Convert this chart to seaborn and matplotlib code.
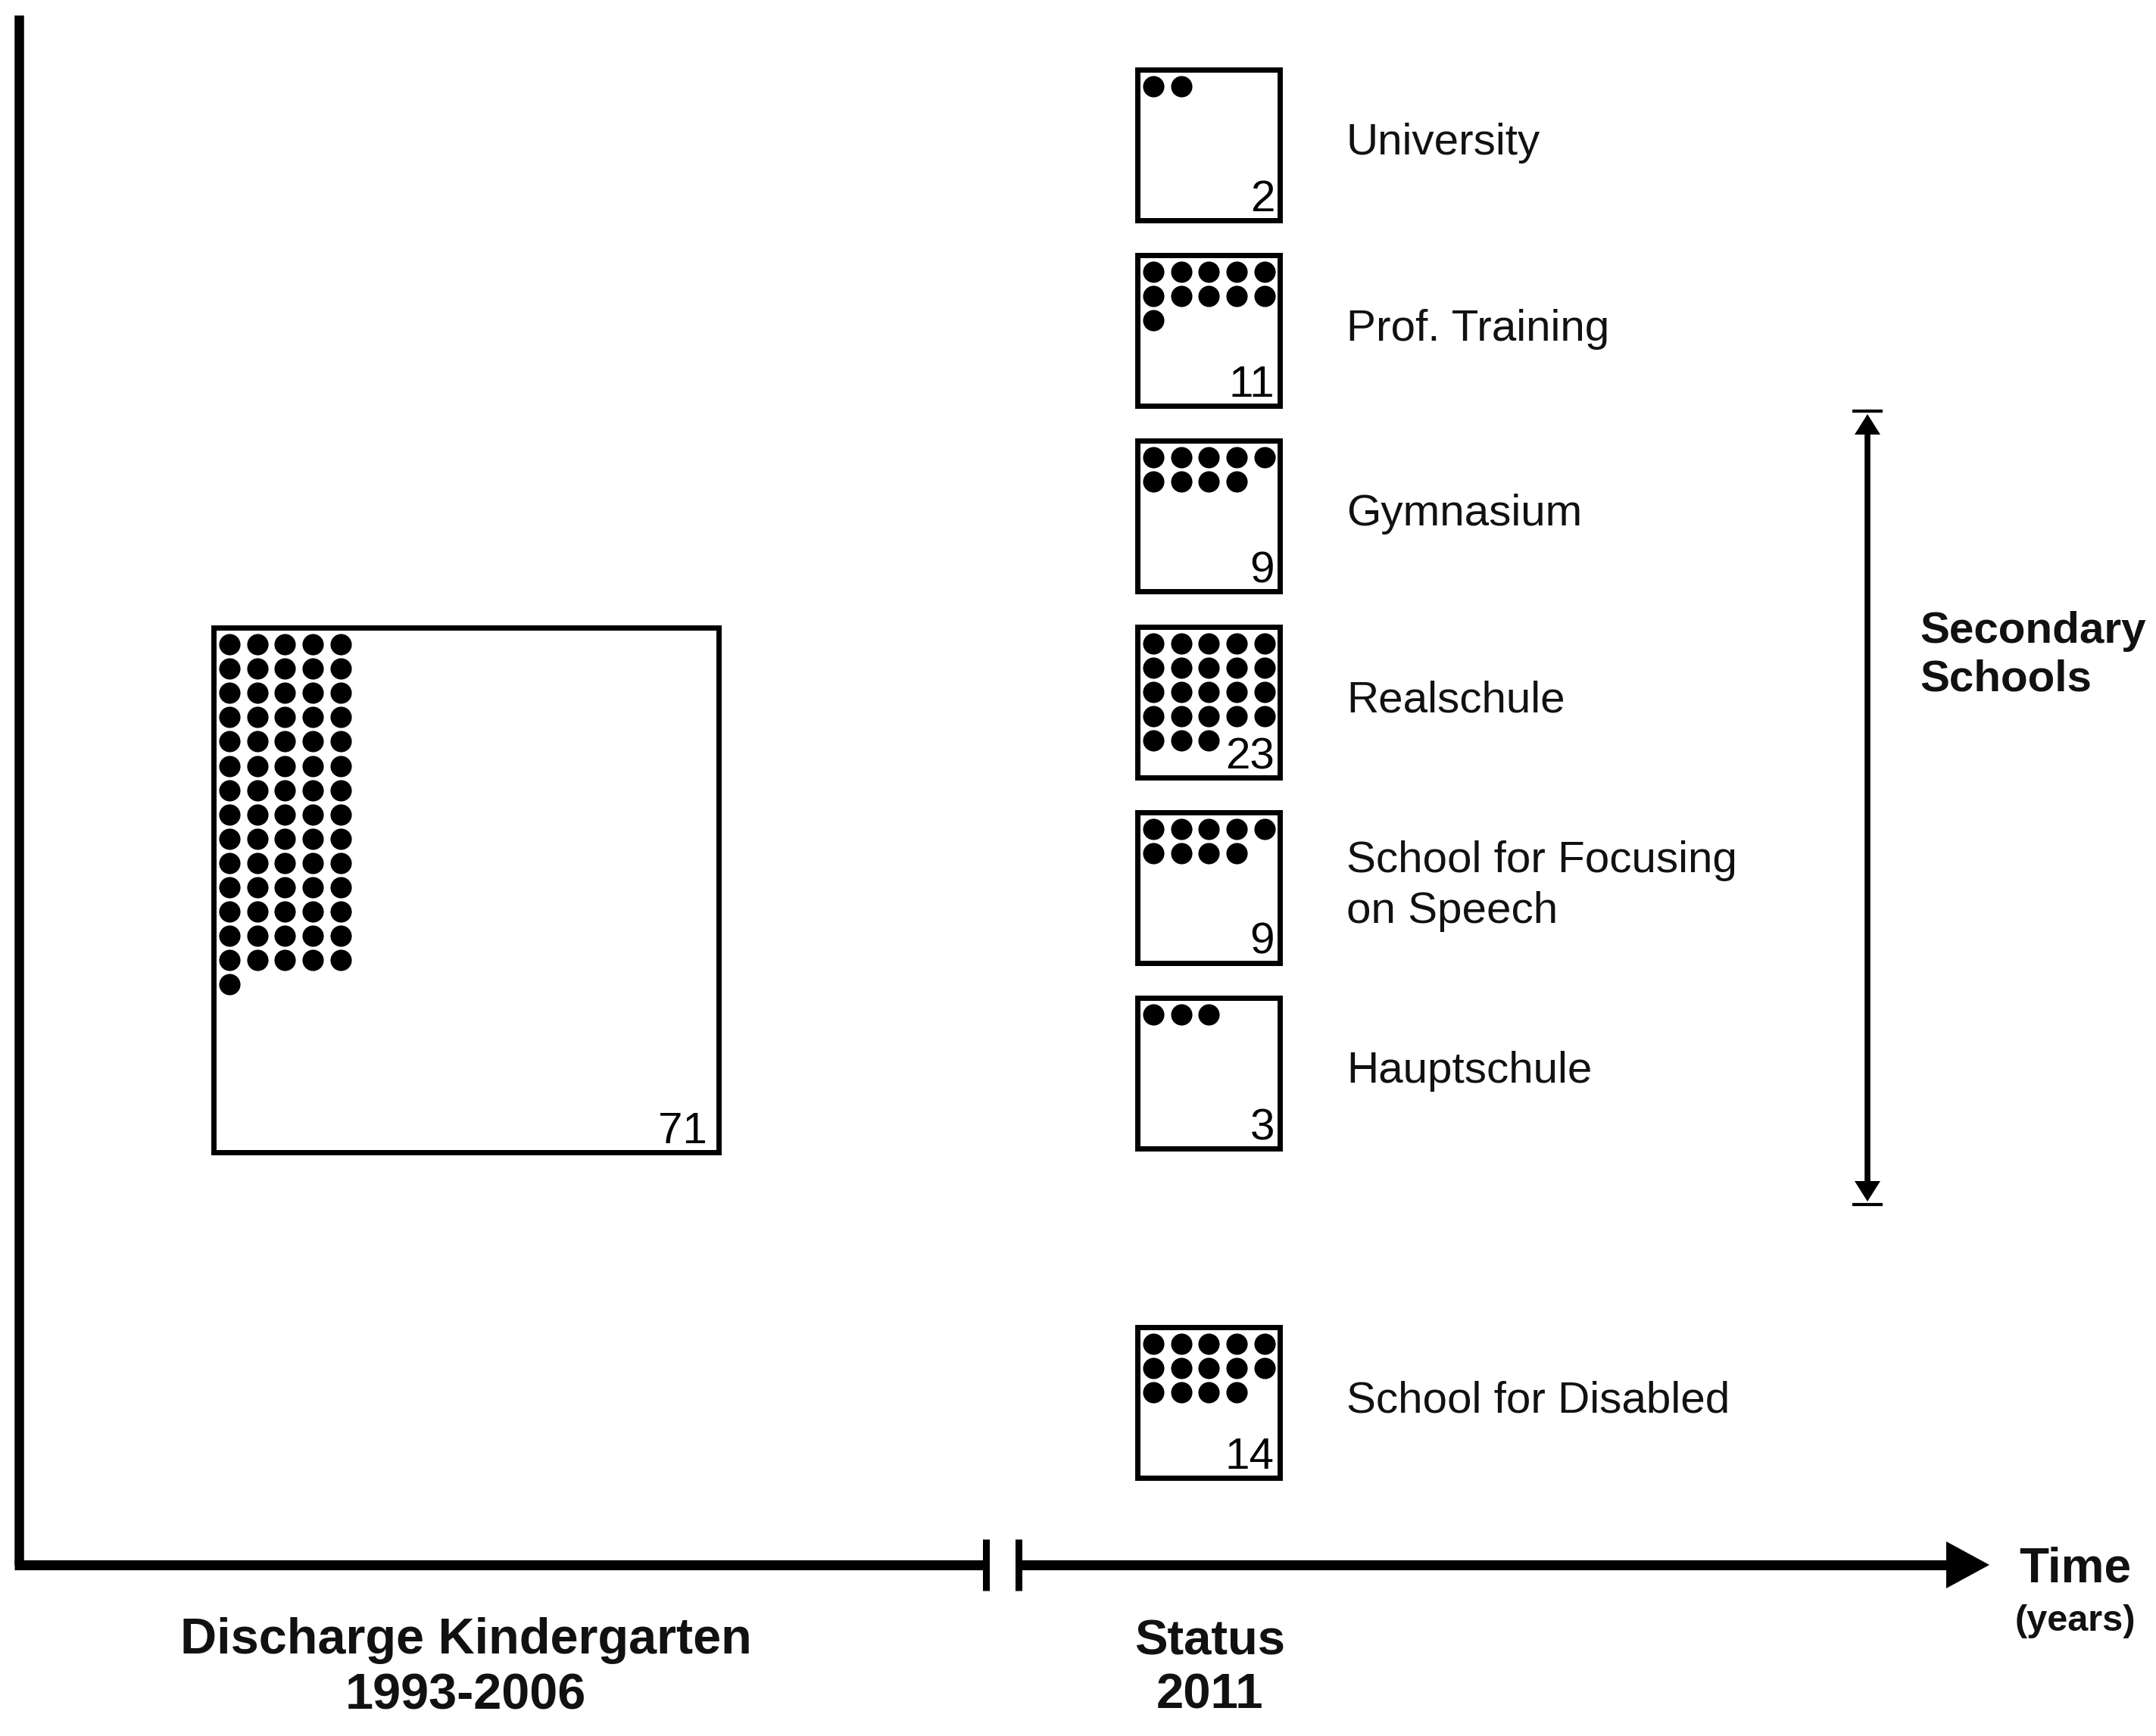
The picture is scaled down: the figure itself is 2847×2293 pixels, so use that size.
import numpy as np
import pandas as pd
import matplotlib
matplotlib.use("Agg")
import matplotlib.pyplot as plt
import seaborn as sns

# ---- data ----
categories = ["University", "Prof. Training", "Gymnasium", "Realschule",
              "School for Focusing\non Speech", "Hauptschule", "School for Disabled"]
counts = [2, 11, 9, 23, 9, 3, 14]
discharge_label = "Discharge Kindergarten\n1993-2006"
discharge_count = 71
status_label = "Status\n2011"
group_label = "Secondary\nSchools"

sns.set_theme(style="white")
plt.rcParams['font.family'] = ['Liberation Sans', 'DejaVu Sans']

W, H = 2847, 2293
fig = plt.figure(figsize=(W / 100, H / 100), dpi=100)
ax = fig.add_axes([0, 0, 1, 1])
ax.set_xlim(0, W)
ax.set_ylim(H, 0)
ax.axis("off")

# layout
small_x0, small_w, small_h = 1502, 188, 199
small_tops = [92, 337, 582, 828, 1073, 1318, 1753]
big_x0, big_y0, big_w, big_h = 282, 829, 667, 693
dx, dy = 36.7, 32.1
off_x, off_y = 21, 22
ncol = 5


def dot_grid(n, x0, y0):
    idx = np.arange(n)
    return x0 + off_x + (idx % ncol) * dx, y0 + off_y + (idx // ncol) * dy


boxes = [(big_x0, big_y0, big_w, big_h, discharge_count, 15)]
for top, c in zip(small_tops, counts):
    boxes.append((small_x0, top, small_w, small_h, c, 7))

rows = []
for (x0, y0, w, h, c, _) in boxes:
    xs, ys = dot_grid(c, x0, y0)
    rows.append(pd.DataFrame({"x": xs, "y": ys}))
dots = pd.concat(rows, ignore_index=True)

for (x0, y0, w, h, c, roff) in boxes:
    ax.add_patch(plt.Rectangle((x0, y0), w, h, fill=False, lw=5, ec="black", zorder=2))
    ax.text(x0 + w - roff, y0 + h - 12, str(c), ha="right", va="baseline",
            fontsize=42, color="black", zorder=3)

sns.scatterplot(data=dots, x="x", y="y", ax=ax, s=410, color="black",
                linewidth=0, legend=False, zorder=3)

# category labels
for top, lab in zip(small_tops, categories):
    ax.text(1778, top + small_h / 2 - 2, lab, ha="left", va="center",
            fontsize=42, color="#111111", linespacing=1.3)

# axes (timeline)
ax.plot([25, 25], [20, 2067], color="black", lw=9, solid_capstyle="butt", zorder=2)
ax.plot([19, 1302], [2067, 2067], color="black", lw=9.5, solid_capstyle="butt", zorder=2)
ax.plot([1345, 2575], [2067, 2067], color="black", lw=9.5, solid_capstyle="butt", zorder=2)
for bx in (1302, 1345):
    ax.plot([bx, bx], [2033, 2101], color="black", lw=6.5, solid_capstyle="butt", zorder=2)
ax.fill([2570, 2570, 2627], [2036, 2098, 2067], color="black", lw=0, zorder=2)

# secondary schools double arrow
ax.plot([2466, 2466], [560, 1575], color="black", lw=5.5, solid_capstyle="butt")
for yc in (543, 1591):
    ax.plot([2446, 2486], [yc, yc], color="black", lw=3, solid_capstyle="butt")
ax.fill([2449, 2483, 2466], [574, 574, 547], color="black", lw=0)
ax.fill([2449, 2483, 2466], [1560, 1560, 1587], color="black", lw=0)
ax.text(2535, 866, group_label, ha="left", va="center", fontsize=42,
        fontweight="bold", color="#111111", linespacing=1.22)

# bottom labels
ax.text(615, 2204, discharge_label, ha="center", va="center", fontsize=48,
        fontweight="bold", color="#111111", linespacing=1.25)
ax.text(1598, 2204, status_label, ha="center", va="center", fontsize=47,
        fontweight="bold", color="#111111", linespacing=1.25)
ax.text(2740, 2072, "Time", ha="center", va="center", fontsize=46,
        fontweight="bold", color="#111111")
ax.text(2740, 2142, "(years)", ha="center", va="center", fontsize=35,
        fontweight="bold", color="#111111")

fig.savefig("out.png", dpi=100, facecolor="white")
